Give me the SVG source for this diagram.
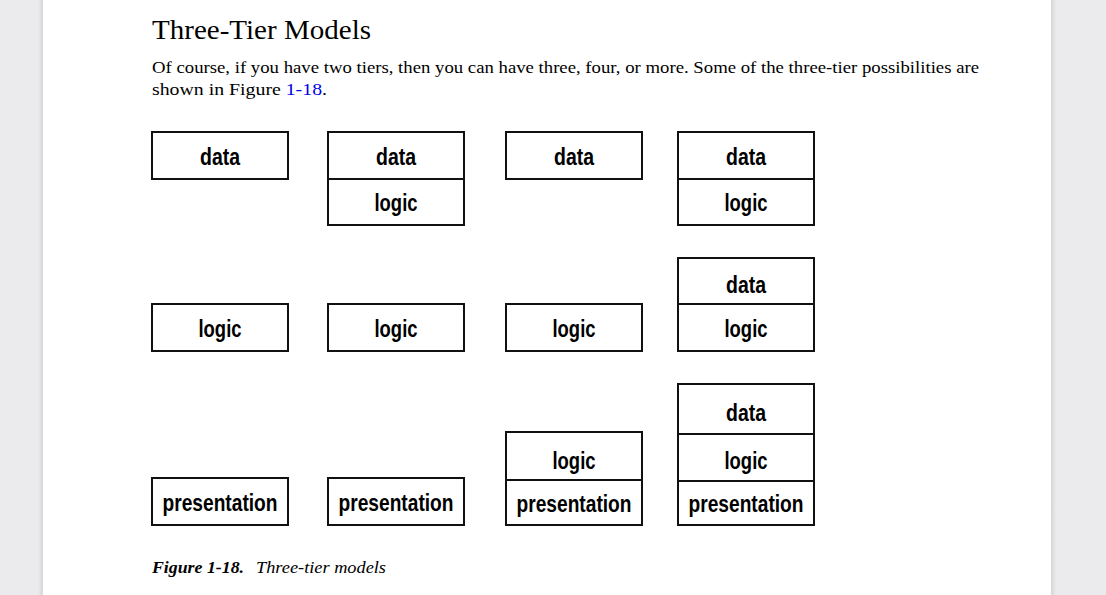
<svg xmlns="http://www.w3.org/2000/svg" width="1106" height="595" viewBox="0 0 1106 595">
<defs>
<linearGradient id="shL" x1="0" x2="1"><stop offset="0" stop-color="#ebebed"/><stop offset="1" stop-color="#d6d6d8"/></linearGradient>
<linearGradient id="shR" x1="0" x2="1"><stop offset="0" stop-color="#d6d6d8"/><stop offset="1" stop-color="#ebebed"/></linearGradient>
</defs>
<style>
.box{fill:#fff;stroke:#111;stroke-width:2}
.div{stroke:#111;stroke-width:2}
.lbl{font-family:"Liberation Sans",Arial,sans-serif;font-size:24px;font-weight:bold;fill:#000;text-anchor:middle}
.serif{font-family:"Liberation Serif","Times New Roman",serif;fill:#000}
</style>
<rect x="0" y="0" width="1106" height="595" fill="#ebebed"/>
<rect x="38" y="0" width="5" height="595" fill="url(#shL)"/>
<rect x="1051" y="0" width="5" height="595" fill="url(#shR)"/>
<rect x="43" y="0" width="1008" height="595" fill="#fff"/>
<text class="serif" x="152" y="39" font-size="28" textLength="219" lengthAdjust="spacingAndGlyphs">Three-Tier Models</text>
<text class="serif" x="152" y="73" font-size="17.5" textLength="827" lengthAdjust="spacingAndGlyphs">Of course, if you have two tiers, then you can have three, four, or more. Some of the three-tier possibilities are</text>
<text class="serif" x="152" y="95" font-size="17.5" textLength="175" lengthAdjust="spacingAndGlyphs">shown in Figure <tspan fill="#0000ee">1-18</tspan>.</text>
<g id="connectors"/>
<g id="c1-data"><rect class="box" x="152" y="132" width="136" height="47"/><text class="lbl" x="220" y="165" textLength="40" lengthAdjust="spacingAndGlyphs">data</text></g>
<g id="c1-logic"><rect class="box" x="152" y="304" width="136" height="47"/><text class="lbl" x="220" y="337" textLength="43" lengthAdjust="spacingAndGlyphs">logic</text></g>
<g id="c1-presentation"><rect class="box" x="152" y="478" width="136" height="47"/><text class="lbl" x="220" y="511" textLength="115" lengthAdjust="spacingAndGlyphs">presentation</text></g>
<g id="c2-datalogic"><rect class="box" x="328" y="132" width="136" height="93"/><line class="div" x1="328" y1="179" x2="464" y2="179"/><text class="lbl" x="396" y="165" textLength="40" lengthAdjust="spacingAndGlyphs">data</text><text class="lbl" x="396" y="211" textLength="43" lengthAdjust="spacingAndGlyphs">logic</text></g>
<g id="c2-logic"><rect class="box" x="328" y="304" width="136" height="47"/><text class="lbl" x="396" y="337" textLength="43" lengthAdjust="spacingAndGlyphs">logic</text></g>
<g id="c2-presentation"><rect class="box" x="328" y="478" width="136" height="47"/><text class="lbl" x="396" y="511" textLength="115" lengthAdjust="spacingAndGlyphs">presentation</text></g>
<g id="c3-data"><rect class="box" x="506" y="132" width="136" height="47"/><text class="lbl" x="574" y="165" textLength="40" lengthAdjust="spacingAndGlyphs">data</text></g>
<g id="c3-logic"><rect class="box" x="506" y="304" width="136" height="47"/><text class="lbl" x="574" y="337" textLength="43" lengthAdjust="spacingAndGlyphs">logic</text></g>
<g id="c3-logicpresentation"><rect class="box" x="506" y="432" width="136" height="93"/><line class="div" x1="506" y1="480" x2="642" y2="480"/><text class="lbl" x="574" y="469" textLength="43" lengthAdjust="spacingAndGlyphs">logic</text><text class="lbl" x="574" y="512" textLength="115" lengthAdjust="spacingAndGlyphs">presentation</text></g>
<g id="c4-datalogic"><rect class="box" x="678" y="132" width="136" height="93"/><line class="div" x1="678" y1="179" x2="814" y2="179"/><text class="lbl" x="746" y="165" textLength="40" lengthAdjust="spacingAndGlyphs">data</text><text class="lbl" x="746" y="211" textLength="43" lengthAdjust="spacingAndGlyphs">logic</text></g>
<g id="c4-datalogic2"><rect class="box" x="678" y="258" width="136" height="93"/><line class="div" x1="678" y1="304" x2="814" y2="304"/><text class="lbl" x="746" y="293" textLength="40" lengthAdjust="spacingAndGlyphs">data</text><text class="lbl" x="746" y="337" textLength="43" lengthAdjust="spacingAndGlyphs">logic</text></g>
<g id="c4-all"><rect class="box" x="678" y="384" width="136" height="141"/><line class="div" x1="678" y1="434" x2="814" y2="434"/><line class="div" x1="678" y1="481" x2="814" y2="481"/><text class="lbl" x="746" y="421" textLength="40" lengthAdjust="spacingAndGlyphs">data</text><text class="lbl" x="746" y="469" textLength="43" lengthAdjust="spacingAndGlyphs">logic</text><text class="lbl" x="746" y="512" textLength="115" lengthAdjust="spacingAndGlyphs">presentation</text></g>
<text class="serif" x="152" y="573" font-size="17.5" font-style="italic"><tspan font-weight="bold" textLength="92" lengthAdjust="spacingAndGlyphs">Figure 1-18.</tspan><tspan x="256" textLength="130" lengthAdjust="spacingAndGlyphs">Three-tier models</tspan></text>
</svg>
